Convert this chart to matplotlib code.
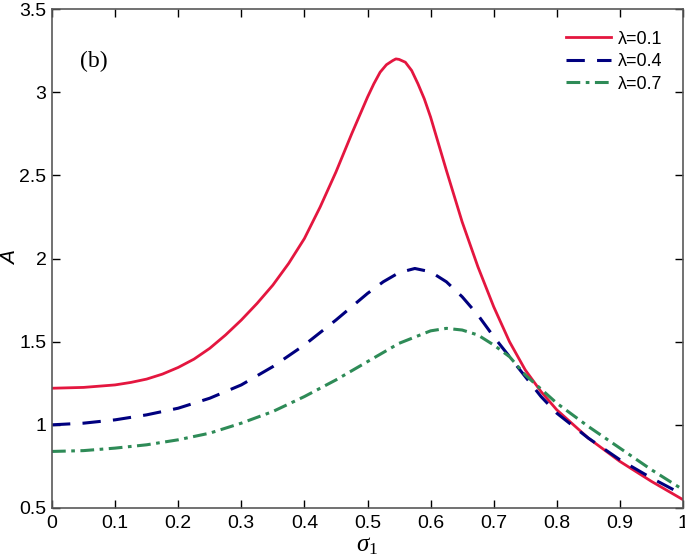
import matplotlib.pyplot as plt
import numpy as np

plt.rcParams['font.family'] = ['Liberation Sans', 'DejaVu Sans']
plt.rcParams['mathtext.fontset'] = 'custom'
plt.rcParams['mathtext.it'] = 'Liberation Serif:italic'
plt.rcParams['mathtext.rm'] = 'Liberation Serif'

# lambda = 0.1
sig_r = [0, 0.05, 0.1, 0.125, 0.15, 0.175, 0.2, 0.225, 0.25, 0.275, 0.3, 0.325, 0.35,
         0.375, 0.4, 0.425, 0.45, 0.475, 0.5, 0.51, 0.52, 0.53, 0.54, 0.545, 0.55,
         0.56, 0.57, 0.58, 0.59, 0.6, 0.625, 0.65, 0.675, 0.7, 0.725, 0.75, 0.775,
         0.8, 0.85, 0.9, 0.95, 1.0]
a_r = [1.22, 1.225, 1.24, 1.255, 1.275, 1.305, 1.345, 1.395, 1.46, 1.54, 1.63, 1.73, 1.84,
       1.97, 2.12, 2.31, 2.52, 2.75, 2.97, 3.05, 3.12, 3.165, 3.19, 3.20, 3.197,
       3.18, 3.13, 3.05, 2.96, 2.85, 2.53, 2.22, 1.95, 1.71, 1.50, 1.33, 1.20,
       1.09, 0.92, 0.78, 0.66, 0.55]

# lambda = 0.4
sig_b = [0, 0.05, 0.1, 0.15, 0.2, 0.25, 0.3, 0.35, 0.4, 0.45, 0.5, 0.525, 0.55,
         0.575, 0.6, 0.625, 0.65, 0.675, 0.7, 0.725, 0.75, 0.775, 0.8, 0.85,
         0.9, 0.95, 1.0]
a_b = [1.00, 1.01, 1.03, 1.06, 1.10, 1.16, 1.24, 1.35, 1.48, 1.63, 1.79, 1.86, 1.915,
       1.94, 1.92, 1.86, 1.77, 1.66, 1.53, 1.41, 1.29, 1.17, 1.07, 0.92,
       0.79, 0.68, 0.58]

# lambda = 0.7
sig_g = [0, 0.05, 0.1, 0.15, 0.2, 0.25, 0.3, 0.35, 0.4, 0.45, 0.5, 0.55, 0.6,
         0.625, 0.65, 0.675, 0.7, 0.725, 0.75, 0.775, 0.8, 0.85, 0.9, 0.95, 1.0]
a_g = [0.84, 0.845, 0.86, 0.88, 0.91, 0.95, 1.01, 1.08, 1.17, 1.27, 1.38, 1.49, 1.565,
       1.58, 1.57, 1.54, 1.48, 1.41, 1.30, 1.215, 1.13, 0.99, 0.86, 0.73, 0.61]

labels = ['λ=0.1', 'λ=0.4', 'λ=0.7']

fig = plt.figure(figsize=(6.85, 5.59), dpi=100)
ax = fig.add_axes([52/685, 1 - 508/559, (683 - 52)/685, (508 - 9)/559])

ax.plot(sig_r, a_r, color='#E4163F', lw=2, label=labels[0])
ax.plot(sig_b, a_b, color='#00007F', lw=2.2, dashes=(6, 4), label=labels[1])
ax.plot(sig_g, a_g, color='#2E8B57', lw=2.2, dashes=(4.5, 1.8, 1.2, 1.8), label=labels[2])

ax.set_xlim(0, 1)
ax.set_ylim(0.5, 3.5)
ax.set_xticks(np.arange(0, 1.01, 0.1))
ax.set_xticklabels(['0', '0.1', '0.2', '0.3', '0.4', '0.5', '0.6', '0.7', '0.8', '0.9', '1'])
ax.set_yticks([0.5, 1, 1.5, 2, 2.5, 3, 3.5])
ax.set_yticklabels(['0.5', '1', '1.5', '2', '2.5', '3', '3.5'])
ax.tick_params(direction='in', length=6, width=1, labelsize=14, top=True, right=True)
ax.tick_params(axis='x', pad=5)
ax.tick_params(axis='y', pad=4)
for s in ax.spines.values():
    s.set_color('0.35')
    s.set_linewidth(1.2)

ax.set_xlabel(r'$\sigma_{\mathit{1}}$', fontsize=18, labelpad=1)
ax.set_ylabel('A', fontsize=15, style='italic')
ax.yaxis.set_label_coords((20 - 52) / 631, 0.5)

ax.text(0.044, 0.894, '(b)', transform=ax.transAxes, fontsize=17,
        family='Liberation Serif', va='center')

ax.legend(loc='upper right', frameon=False, fontsize=13, handlelength=2.5,
          handletextpad=0.4, labelspacing=0.3, borderaxespad=0.2,
          bbox_to_anchor=(0.985, 0.978))

fig.savefig('out.png', dpi=100)
